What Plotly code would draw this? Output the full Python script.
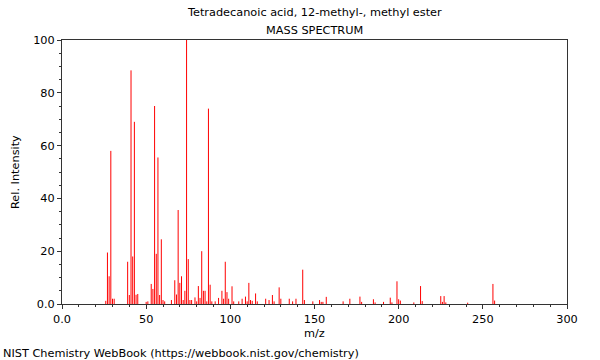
import plotly.graph_objects as go

mz = [26, 27, 28, 29, 30, 31, 39, 40, 41, 42, 43, 44, 45, 50, 51, 53, 54, 55, 56, 57,
      58, 59, 60, 61, 65, 67, 68, 69, 70, 71, 72, 73, 74, 75, 76, 77, 79, 80, 81, 82,
      83, 84, 85, 86, 87, 88, 89, 91, 93, 95, 96, 97, 98, 99, 101, 102, 105, 107, 109, 110,
      111, 112, 113, 115, 116, 121, 123, 125, 126, 129, 130, 135, 137, 139, 143, 144, 149, 153, 154, 155,
      157, 167, 171, 177, 178, 185, 186, 191, 195, 196, 199, 200, 201, 209, 213, 214, 225, 226, 227, 228,
      241, 256, 257]
intensity = [1.2, 19.5, 10.5, 58, 2, 2, 16, 3.4, 88.5, 18, 69, 3.5, 3.8, 0.8, 1, 7.6, 5.7, 75, 19, 55.5,
             3.4, 24.5, 1.5, 1, 1.5, 9, 3.6, 35.6, 8, 10.5, 1.5, 5, 100, 17, 1.5, 1.5, 2.5, 1, 6.8, 2.3,
             20, 5, 5, 1, 74, 7.3, 1, 1, 2.3, 5, 2, 16, 4.5, 2, 6.7, 1, 1, 2, 2.8, 1,
             8, 1.5, 1.2, 4, 1, 2, 1.5, 3.4, 1, 6.3, 2, 2, 1, 2, 13, 1.5, 1, 1.5, 0.8, 0.8,
             2.7, 1, 2, 2.8, 0.8, 1.8, 0.6, 0.8, 2.4, 0.6, 8.6, 1.8, 1.3, 0.6, 6.8, 1.1, 3, 0.8, 3, 0.6,
             0.5, 7.6, 1.3]

title_line1 = "Tetradecanoic acid, 12-methyl-, methyl ester"
title_line2 = "MASS SPECTRUM"
x_label = "m/z"
y_label = "Rel. Intensity"
footer = "NIST Chemistry WebBook (https://webbook.nist.gov/chemistry)"

x_tickvals = [0, 50, 100, 150, 200, 250, 300]
x_ticktext = ["0.0", "50", "100", "150", "200", "250", "300"]
y_tickvals = [0, 20, 40, 60, 80, 100]
y_ticktext = ["0.0", "20", "40", "60", "80", "100"]

xs, ys = [], []
for m, v in zip(mz, intensity):
    xs += [m, m, None]
    ys += [0, v, None]

fig = go.Figure()
fig.add_trace(go.Scatter(x=xs, y=ys, mode="lines",
                         line=dict(color="#ff0000", width=1),
                         hoverinfo="skip", showlegend=False))

font = dict(family="DejaVu Sans", size=11.3, color="#000000")
axcol = "#333333"
fig.update_layout(
    width=600, height=360,
    margin=dict(l=62, r=33, t=40, b=56),
    paper_bgcolor="white", plot_bgcolor="white",
    font=font,
    xaxis=dict(range=[0, 300], tickvals=x_tickvals, ticktext=x_ticktext,
               showgrid=False, zeroline=False, showline=True, linecolor=axcol,
               linewidth=1, mirror=True, ticks="outside", ticklen=4, tickcolor=axcol,
               minor=dict(dtick=10, ticks="outside", ticklen=2, tickcolor=axcol),
               tickfont=font),
    yaxis=dict(range=[0, 100], tickvals=y_tickvals, ticktext=y_ticktext,
               showgrid=False, zeroline=False, showline=True, linecolor=axcol,
               linewidth=1, mirror=True, ticks="outside", ticklen=4, tickcolor=axcol,
               minor=dict(dtick=5, ticks="outside", ticklen=2, tickcolor=axcol),
               tickfont=font),
)

def py(p):
    return (304 - p) / 264.0

def px(p):
    return (p - 62) / 505.0

fig.add_annotation(text=title_line1, xref="paper", yref="paper", x=0.5, y=py(13),
                   showarrow=False, xanchor="center", yanchor="middle", font=font)
fig.add_annotation(text=title_line2, xref="paper", yref="paper", x=0.5, y=py(30),
                   showarrow=False, xanchor="center", yanchor="middle", font=font)
fig.add_annotation(text=x_label, xref="paper", yref="paper", x=0.5, y=py(333),
                   showarrow=False, xanchor="center", yanchor="middle", font=font)
fig.add_annotation(text=y_label, xref="paper", yref="paper", x=px(15), y=0.5,
                   showarrow=False, xanchor="center", yanchor="middle", textangle=-90, font=font)
fig.add_annotation(text=footer, xref="paper", yref="paper", x=px(1), y=py(353),
                   showarrow=False, xanchor="left", yanchor="middle", font=font)

fig.write_html("out.html", config={"displayModeBar": False},
               post_script="document.body.style.margin='0';document.body.style.overflow='hidden';")
